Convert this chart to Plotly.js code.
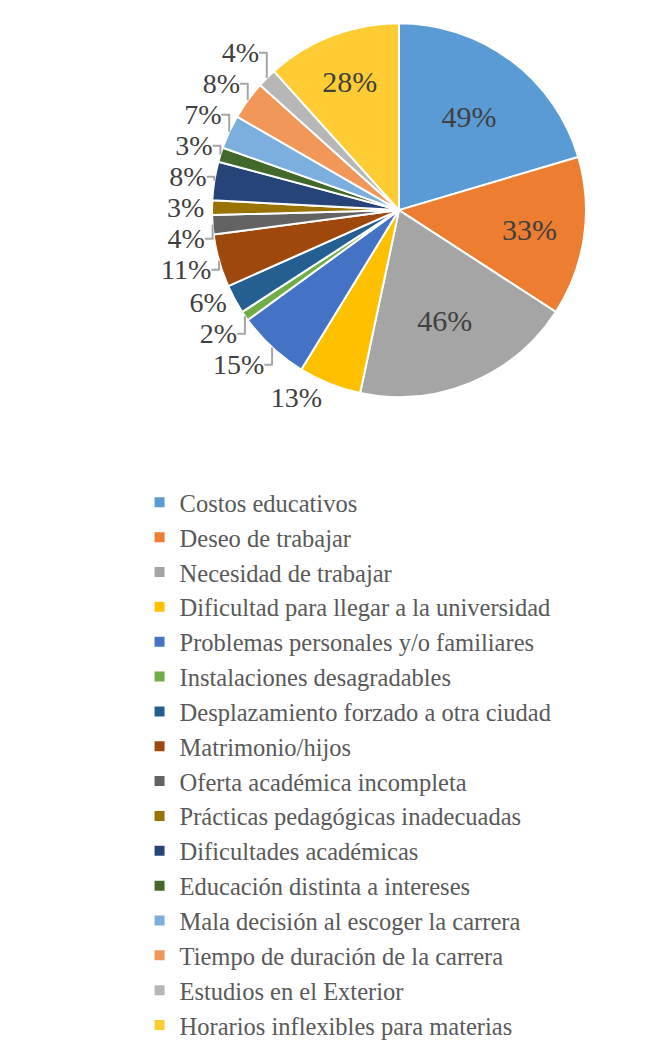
<!DOCTYPE html>
<html lang="es">
    <head>
        <meta charset="UTF-8">
        <title>Causas de deserción</title>
        <script src="https://cdn.plot.ly/plotly-3.0.1.min.js"></script>
        <style>
            body { margin: 0; background: #fff; }
            #plot { width: 663px; height: 1048px; }
            /* lineas guia en gris claro como en Excel */
            #plot path.textline { stroke: #A6A6A6 !important; }
        </style>
    </head>
    <body>

        <div id="plot"></div>

        <script>
        // Categorias y porcentajes
        const causas = [
            'Costos educativos',
            'Deseo de trabajar',
            'Necesidad de trabajar',
            'Dificultad para llegar a la universidad',
            'Problemas personales y/o familiares',
            'Instalaciones desagradables',
            'Desplazamiento forzado a otra ciudad',
            'Matrimonio/hijos',
            'Oferta académica incompleta',
            'Prácticas pedagógicas inadecuadas',
            'Dificultades académicas',
            'Educación distinta a intereses',
            'Mala decisión al escoger la carrera',
            'Tiempo de duración de la carrera',
            'Estudios en el Exterior',
            'Horarios inflexibles para materias'
        ];
        const porcentajes = [49, 33, 46, 13, 15, 2, 6, 11, 4, 3, 8, 3, 7, 8, 4, 28];

        const colores = [
            '#5B9BD5', '#ED7D31', '#A5A5A5', '#FFC000',
            '#4472C4', '#70AD47', '#255E91', '#9E480E',
            '#636363', '#997300', '#264478', '#43682B',
            '#7CAFDD', '#F1975A', '#B7B7B7', '#FFCD33'
        ];

        const serif = '"Liberation Serif", "Times New Roman", serif';

        // etiquetas grandes dentro, las pequeñas fuera
        const posiciones = porcentajes.map(v => v >= 20 ? 'inside' : 'outside');

        const trace = {
            type: 'pie',
            labels: causas,
            values: porcentajes,
            text: porcentajes.map(v => v + '%'),
            textinfo: 'text',
            textposition: posiciones,
            insidetextorientation: 'horizontal',
            sort: false,
            direction: 'clockwise',
            rotation: 0,
            marker: { colors: colores, line: { color: '#ffffff', width: 2 } },
            insidetextfont: { family: serif, size: 30, color: '#404040' },
            outsidetextfont: { family: serif, size: 28, color: '#404040' },
            domain: { x: [197 / 663, 601 / 663], y: [1 - 429 / 1048, 1 - 25 / 1048] },
            hoverinfo: 'label+text'
        };

        const layout = {
            width: 663,
            height: 1048,
            margin: { l: 0, r: 0, t: 0, b: 0 },
            paper_bgcolor: '#ffffff',
            font: { family: serif, color: '#595959' },
            showlegend: true,
            legend: {
                x: 0.2105, y: 0.5053,
                xanchor: 'left', yanchor: 'top',
                traceorder: 'normal',
                font: { family: serif, size: 24.5, color: '#595959' },
                itemwidth: 30,
                bgcolor: 'rgba(0,0,0,0)'
            }
        };

        Plotly.newPlot('plot', [trace], layout, { displayModeBar: false });
        </script>

    </body>
</html>
